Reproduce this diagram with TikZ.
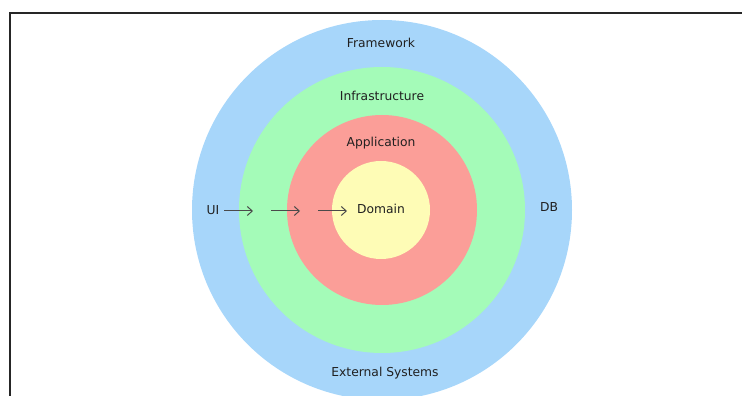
\documentclass[tikz,border=0pt]{standalone}
\usepackage{fontspec}
\setmainfont{DejaVu Sans}
\usetikzlibrary{arrows.meta}
\definecolor{ringblue}{HTML}{A7D6FA}
\definecolor{ringgreen}{HTML}{A4FBB8}
\definecolor{ringred}{HTML}{FB9E98}
\definecolor{ringyellow}{HTML}{FEFCB6}
\definecolor{labelgray}{HTML}{202020}
\definecolor{arrowgray}{HTML}{4A4A4A}
\tikzset{
  ring/.style={circle, draw=none, inner sep=0pt, minimum size=#1},
  lbl/.style={text=labelgray, font=\fontsize{12.3}{14}\selectfont, inner sep=0pt, anchor=base},
  flow/.style={draw=arrowgray, line width=1pt, -{Straight Barb[length=5pt,width=9pt]}},
}
\begin{document}
\begin{tikzpicture}[x=1pt, y=1pt]
  \useasboundingbox (0,0) rectangle (742,396);
  % frame lines (left and top)
  \draw[line width=2pt, black!85] (10,0) -- (10,383) -- (742,383);
  % concentric layers
  \node[ring=380pt, fill=ringblue]   (framework) at (382,186) {};
  \node[ring=286pt, fill=ringgreen]  (infra)     at (382,186) {};
  \node[ring=190pt, fill=ringred]    (app)       at (382,186) {};
  \node[ring=98pt,  fill=ringyellow] (domain)    at (381,186) {};
  % layer labels
  \node[lbl] (tframework) at (381,348.5) {Framework};
  \node[lbl] (tinfra)     at (382,295.5) {Infrastructure};
  \node[lbl] (tapp)       at (381,249.5) {Application};
  \node[lbl] (tdomain)    at (381,182)   {Domain};
  \node[lbl] (tui)        at (213,181.5) {UI};
  \node[lbl] (tdb)        at (549,184)   {DB};
  \node[lbl] (text)       at (385,19.5)  {External Systems};
  % dependency arrows pointing inward
  \coordinate (a1s) at (224,185);
  \coordinate (a1e) at (253,185);
  \coordinate (a2s) at (271,185);
  \coordinate (a2e) at (300,185);
  \coordinate (a3s) at (318,185);
  \coordinate (a3e) at (347,185);
  \draw[flow] (a1s) -- (a1e);
  \draw[flow] (a2s) -- (a2e);
  \draw[flow] (a3s) -- (a3e);
\end{tikzpicture}
\end{document}
